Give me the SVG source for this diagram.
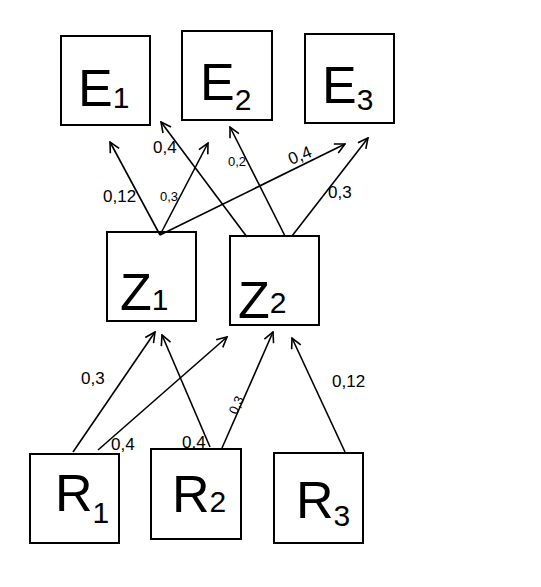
<svg xmlns="http://www.w3.org/2000/svg" width="541" height="587" viewBox="0 0 541 587">
<style>
.box{fill:#fff;stroke:#000;stroke-width:2}
.big{font-family:"Liberation Sans",Arial,sans-serif;font-size:52px;fill:#000;font-weight:normal}
.sub{font-size:30px}
.lbl{font-family:"Liberation Sans",Arial,sans-serif;font-size:17px;fill:#000}
.sm{font-size:13px}
.edge{fill:none;stroke:#000;stroke-width:1.6}
</style>
<defs>
<marker id="ah" viewBox="0 0 12 12" refX="11" refY="6" markerWidth="12" markerHeight="12" markerUnits="userSpaceOnUse" orient="auto">
<path d="M1,1 L11,6 L1,11" fill="none" stroke="#000" stroke-width="1.6"/>
</marker>
</defs>
<rect width="541" height="587" fill="#fff"/>
<g id="E1"><rect class="box" x="61" y="36" width="89" height="89"/><text class="big" x="78" y="106">E<tspan class="sub" dy="2">1</tspan></text></g>
<g id="E2"><rect class="box" x="182" y="31" width="90" height="89"/><text class="big" x="200" y="100">E<tspan class="sub" dy="10">2</tspan></text></g>
<g id="E3"><rect class="box" x="305" y="34" width="89" height="89"/><text class="big" x="322" y="103">E<tspan class="sub" dy="7">3</tspan></text></g>
<g id="Z1"><rect class="box" x="107" y="232" width="89" height="89"/><text class="big" x="120" y="310">Z<tspan class="sub" dy="0">1</tspan></text></g>
<g id="Z2"><rect class="box" x="230" y="236" width="89" height="89"/><text class="big" x="238" y="318">Z<tspan class="sub" dy="-5">2</tspan></text></g>
<g id="R1"><rect class="box" x="30" y="454" width="89" height="89"/><text class="big" x="55" y="511">R<tspan class="sub" dy="12">1</tspan></text></g>
<g id="R2"><rect class="box" x="151" y="449" width="90" height="90"/><text class="big" x="172" y="512">R<tspan class="sub" dy="0">2</tspan></text></g>
<g id="R3"><rect class="box" x="274" y="453" width="89" height="90"/><text class="big" x="296" y="518">R<tspan class="sub" dy="8">3</tspan></text></g>
<g id="connectors">
<line class="edge" x1="160" y1="235" x2="110" y2="142" marker-end="url(#ah)"/>
<line class="edge" x1="160" y1="235" x2="208" y2="143" marker-end="url(#ah)"/>
<line class="edge" x1="160" y1="235" x2="345" y2="144" marker-end="url(#ah)"/>
<line class="edge" x1="247" y1="237" x2="161" y2="122" marker-end="url(#ah)"/>
<line class="edge" x1="285" y1="236" x2="230" y2="127" marker-end="url(#ah)"/>
<line class="edge" x1="292" y1="236" x2="368" y2="138" marker-end="url(#ah)"/>
<line class="edge" x1="73" y1="452" x2="155" y2="332" marker-end="url(#ah)"/>
<line class="edge" x1="98" y1="450" x2="227" y2="337" marker-end="url(#ah)"/>
<line class="edge" x1="210" y1="447" x2="162" y2="335" marker-end="url(#ah)"/>
<line class="edge" x1="222" y1="448" x2="273" y2="332" marker-end="url(#ah)"/>
<line class="edge" x1="345" y1="452" x2="292" y2="338" marker-end="url(#ah)"/>
</g>
<g id="labels">
<text class="lbl" x="103" y="202">0,12</text>
<text class="lbl sm" x="160" y="201">0,3</text>
<text class="lbl" x="288" y="161" transform="rotate(-22 300 155)">0,4</text>
<text class="lbl" x="153" y="153">0,4</text>
<text class="lbl sm" x="228" y="166">0,2</text>
<text class="lbl" x="328" y="198">0,3</text>
<text class="lbl" x="81" y="384">0,3</text>
<text class="lbl" x="111" y="450">0,4</text>
<text class="lbl" x="182" y="448">0,4</text>
<text class="lbl sm" x="228" y="418" transform="rotate(-65 230 410)">0,3</text>
<text class="lbl" x="332" y="387">0,12</text>
</g>
</svg>
